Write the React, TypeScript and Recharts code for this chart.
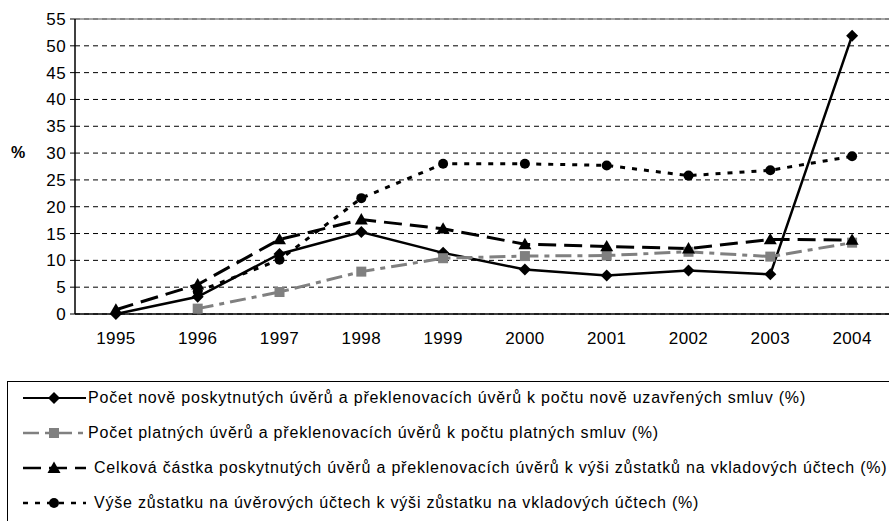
import React from "react";
import {
  ComposedChart,
  Line,
  XAxis,
  YAxis,
  CartesianGrid,
  ReferenceLine,
} from "recharts";

const years = ["1995", "1996", "1997", "1998", "1999", "2000", "2001", "2002", "2003", "2004"];

const newLoans = [0, 3.2, 11.2, 15.3, 11.4, 8.3, 7.2, 8.1, 7.4, 51.9];
const validLoans = [null, 1.0, 4.1, 7.9, 10.4, 10.8, 10.9, 11.6, 10.7, 13.3];
const totalAmount = [0.8, 5.5, 13.9, 17.6, 15.9, 13.0, 12.6, 12.2, 13.9, 13.8];
const balance = [null, 4.2, 10.1, 21.6, 28.0, 28.0, 27.7, 25.8, 26.8, 29.4];

const yTicks = [0, 5, 10, 15, 20, 25, 30, 35, 40, 45, 50, 55];

const labels = [
  "Počet nově poskytnutých úvěrů a překlenovacích úvěrů k počtu nově uzavřených smluv (%)",
  "Počet platných úvěrů a překlenovacích úvěrů k počtu platných smluv (%)",
  "Celková částka poskytnutých úvěrů a překlenovacích úvěrů k výši zůstatků na vkladových účtech (%)",
  "Výše zůstatku na úvěrových účtech k výši zůstatku na vkladových účtech (%)",
];

const data = years.map((year, i) => ({
  x: i,
  year,
  newLoans: newLoans[i],
  validLoans: validLoans[i],
  totalAmount: totalAmount[i],
  balance: balance[i],
}));

const FONT = "'Liberation Sans', Arial, sans-serif";

type Shape = "diamond" | "square" | "triangle" | "circle";

function Marker({ cx, cy, shape, color }: { cx: number; cy: number; shape: Shape; color: string }) {
  if (cx == null || cy == null) return null;
  if (shape === "diamond") {
    const r = 6;
    return <polygon points={`${cx},${cy - r} ${cx + r},${cy} ${cx},${cy + r} ${cx - r},${cy}`} fill={color} />;
  }
  if (shape === "square") {
    const r = 5;
    return <rect x={cx - r} y={cy - r} width={r * 2} height={r * 2} fill={color} />;
  }
  if (shape === "triangle") {
    const r = 6.5;
    return <polygon points={`${cx},${cy - r} ${cx + r},${cy + r * 0.75} ${cx - r},${cy + r * 0.75}`} fill={color} />;
  }
  return <circle cx={cx} cy={cy} r={5} fill={color} />;
}

const series = [
  { key: "newLoans", color: "#000", dash: undefined, width: 2.5, shape: "diamond" as Shape },
  { key: "validLoans", color: "#808080", dash: "16 6 5 6", width: 3, shape: "square" as Shape },
  { key: "totalAmount", color: "#000", dash: "18 8", width: 3, shape: "triangle" as Shape },
  { key: "balance", color: "#000", dash: "5 7", width: 3, shape: "circle" as Shape },
];

const LegendBox = () => (
  <div
    style={{
      position: "absolute",
      left: 7,
      top: 381,
      width: 900,
      height: 160,
      border: "1px solid #000",
      fontFamily: FONT,
      fontSize: 16,
      letterSpacing: 0.8,
      color: "#000",
    }}
  >
    {series.map((s, i) => (
      <div
        key={s.key}
        style={{ position: "absolute", left: 0, top: 3 + i * 35, height: 26, display: "flex", alignItems: "center", whiteSpace: "nowrap" }}
      >
        <svg width={80} height={26}>
          <line x1={15} y1={13} x2={78} y2={13} stroke={s.color} strokeWidth={s.width - 0.5} strokeDasharray={s.dash} />
          <Marker cx={46} cy={13} shape={s.shape} color={s.color} />
        </svg>
        <span style={{ marginLeft: i === 2 || i === 3 ? 6 : 0 }}>{labels[i]}</span>
      </div>
    ))}
  </div>
);

export default function App() {
  return (
    <div style={{ position: "absolute", left: 0, top: 0, width: 889, height: 521, overflow: "hidden", background: "#fff" }}>
      <ComposedChart
        width={900}
        height={360}
        data={data}
        margin={{ top: 19, right: 7, bottom: 0, left: 15 }}
        style={{ fontFamily: FONT }}
      >
        <CartesianGrid horizontal vertical={false} stroke="#000" strokeDasharray="5 4" strokeWidth={1} />
        <XAxis
          xAxisId="lab"
          dataKey="x"
          type="number"
          domain={[-0.5, 9.5]}
          ticks={[0, 1, 2, 3, 4, 5, 6, 7, 8, 9]}
          tickFormatter={(v: number) => years[v]}
          tickLine={false}
          axisLine={{ stroke: "#000", strokeWidth: 1.5 }}
          tick={{ fill: "#000", fontSize: 17, letterSpacing: 0.4 }}
          tickMargin={12}
          height={45}
        />
        <XAxis
          xAxisId="tk"
          dataKey="x"
          type="number"
          domain={[-0.5, 9.5]}
          ticks={[0.5, 1.5, 2.5, 3.5, 4.5, 5.5, 6.5, 7.5, 8.5]}
          tick={false}
          tickLine={{ stroke: "#000" }}
          tickSize={6}
          axisLine={false}
          height={1}
        />
        <YAxis
          domain={[0, 55]}
          ticks={yTicks}
          interval={0}
          width={60}
          axisLine={{ stroke: "#000", strokeWidth: 1.5 }}
          tickLine={{ stroke: "#000" }}
          tickSize={5}
          tickMargin={4}
          tick={{ fill: "#000", fontSize: 17, letterSpacing: 0.4 }}
          label={{ value: "%", position: "insideLeft", offset: -4, dy: -14, style: { fontWeight: "bold", fontSize: 16, fill: "#000" } }}
        />
        <ReferenceLine xAxisId="lab" y={55} stroke="#888" strokeWidth={1.5} />
        {series.map((s) => (
          <Line
            key={s.key}
            xAxisId="lab"
            dataKey={s.key}
            type="linear"
            stroke={s.color}
            strokeWidth={s.width}
            strokeDasharray={s.dash}
            dot={(p: any) => <Marker key={p.index} cx={p.cx} cy={p.cy} shape={s.shape} color={s.color} />}
            activeDot={false}
            isAnimationActive={false}
            connectNulls={false}
          />
        ))}
      </ComposedChart>
      <LegendBox />
    </div>
  );
}
